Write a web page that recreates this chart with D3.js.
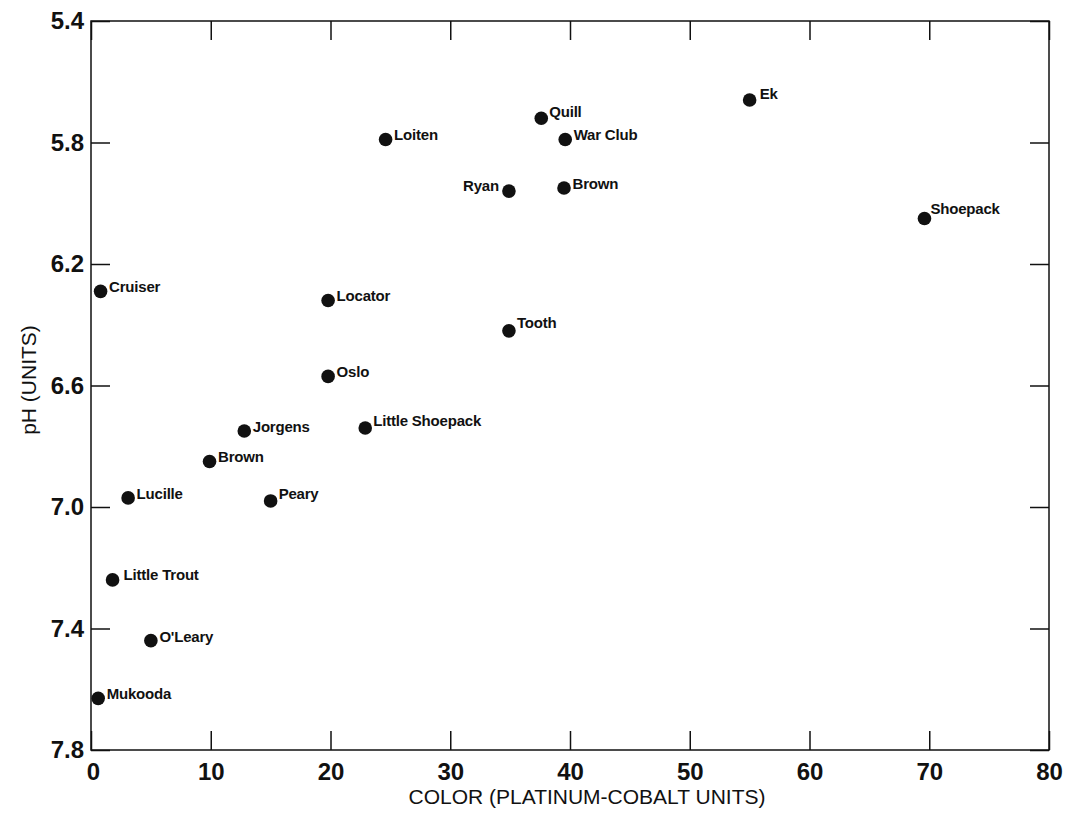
<!DOCTYPE html>
<html>
<head>
    <meta charset="utf-8" />
    <title>pH vs Color</title>
    <script src="https://cdn.jsdelivr.net/npm/d3@7"></script>
    <style>
        body { margin: 0; background: #fff; }
        svg { display: block; font-family: "Liberation Sans", Arial, Helvetica, sans-serif; }
        .tick line { stroke: #111; stroke-width: 1.5px; }
        .xaxis .tick text { font-size: 24px; font-weight: bold; fill: #111; }
        .yaxis .tick text { font-size: 24px; font-weight: bold; fill: #111; }
        .label { font-size: 15px; font-weight: bold; fill: #111; letter-spacing: -0.2px; }
        .title { font-size: 21px; fill: #111; }
    </style>
</head>
<body>
    <svg id="chart" width="1072" height="830"></svg>
    <script>
        // lakes, color (Pt-Co units) and pH
        var lakes = ["Ek", "Quill", "War Club", "Loiten", "Ryan", "Brown", "Shoepack",
            "Cruiser", "Locator", "Tooth", "Oslo", "Jorgens", "Little Shoepack",
            "Brown", "Lucille", "Peary", "Little Trout", "O'Leary", "Mukooda"];
        var color = [55.0, 37.6, 39.6, 24.6, 34.9, 39.5, 69.6,
            0.8, 19.8, 34.9, 19.8, 12.8, 22.9,
            9.9, 3.1, 15.0, 1.8, 5.0, 0.6];
        var ph = [5.66, 5.72, 5.79, 5.79, 5.96, 5.95, 6.05,
            6.29, 6.32, 6.42, 6.57, 6.75, 6.74,
            6.85, 6.97, 6.98, 7.24, 7.44, 7.63];

        var xTicks = [0, 10, 20, 30, 40, 50, 60, 70, 80];
        var yTicks = [5.4, 5.8, 6.2, 6.6, 7.0, 7.4, 7.8];

        // plot box (note: "top" is taken by window.top, hence the prefix)
        var plotLeft = 91, plotRight = 1049, plotTop = 21, plotBottom = 750;

        var svg = d3.select("#chart");

        var x = d3.scaleLinear().domain([0, 80]).range([plotLeft, plotRight]);
        var y = d3.scaleLinear().domain([5.4, 7.8]).range([plotTop, plotBottom]);

        // ticks on all four sides, pointing inward
        svg.append("g")
            .attr("class", "xaxis")
            .attr("transform", "translate(0," + plotBottom + ")")
            .call(d3.axisBottom(x).tickValues(xTicks).tickFormat(d3.format("d"))
                .tickSize(-19).tickSizeOuter(0).tickPadding(13));
        svg.append("g")
            .attr("transform", "translate(0," + plotTop + ")")
            .call(d3.axisTop(x).tickValues(xTicks).tickFormat("")
                .tickSize(-19).tickSizeOuter(0));
        svg.append("g")
            .attr("class", "yaxis")
            .attr("transform", "translate(" + plotLeft + ",0)")
            .call(d3.axisLeft(y).tickValues(yTicks).tickFormat(d3.format(".1f"))
                .tickSize(-19).tickSizeOuter(0).tickPadding(7));
        svg.append("g")
            .attr("transform", "translate(" + plotRight + ",0)")
            .call(d3.axisRight(y).tickValues(yTicks).tickFormat("")
                .tickSize(-19).tickSizeOuter(0));

        svg.selectAll(".domain").remove();
        svg.selectAll(".xaxis .tick text").filter(function(d) { return d === 0; })
            .attr("dx", 2);

        // frame
        svg.append("rect")
            .attr("x", plotLeft).attr("y", plotTop)
            .attr("width", plotRight - plotLeft).attr("height", plotBottom - plotTop)
            .attr("fill", "none").attr("stroke", "#111").attr("stroke-width", 1.5);

        // axis titles
        svg.append("text")
            .attr("class", "title")
            .attr("x", 587).attr("y", 804)
            .attr("text-anchor", "middle")
            .text("COLOR (PLATINUM-COBALT UNITS)");
        svg.append("text")
            .attr("class", "title")
            .attr("transform", "translate(36,380) rotate(-90)")
            .attr("text-anchor", "middle")
            .text("pH (UNITS)");

        // a few labels sit off the usual spot to the right of the dot
        var nudge = {
            "Ryan": {dx: -10, dy: 0, anchor: "end"},
            "Ek": {dx: 10, dy: -1},
            "Shoepack": {dx: 6, dy: -4},
            "Little Trout": {dx: 11, dy: 0},
            "Little Shoepack": {dx: 8, dy: -2},
            "Peary": {dx: 8, dy: -2},
            "Tooth": {dx: 8, dy: -3},
            "Quill": {dx: 8, dy: -1}
        };

        var pts = lakes.map(function(name, i) {
            return {name: name, color: color[i], ph: ph[i]};
        });

        var g = svg.append("g");
        g.selectAll("circle")
            .data(pts)
            .enter().append("circle")
            .attr("cx", function(d) { return x(d.color); })
            .attr("cy", function(d) { return y(d.ph); })
            .attr("r", 6.8)
            .attr("fill", "#111");

        g.selectAll("text")
            .data(pts)
            .enter().append("text")
            .attr("class", "label")
            .attr("x", function(d) {
                var n = nudge[d.name] || {dx: 8.5};
                return x(d.color) + n.dx;
            })
            .attr("y", function(d) {
                var n = nudge[d.name] || {dy: 1};
                return y(d.ph) + n.dy;
            })
            .attr("text-anchor", function(d) {
                var n = nudge[d.name];
                return n && n.anchor ? n.anchor : "start";
            })
            .text(function(d) { return d.name; });
    </script>
</body>
</html>
